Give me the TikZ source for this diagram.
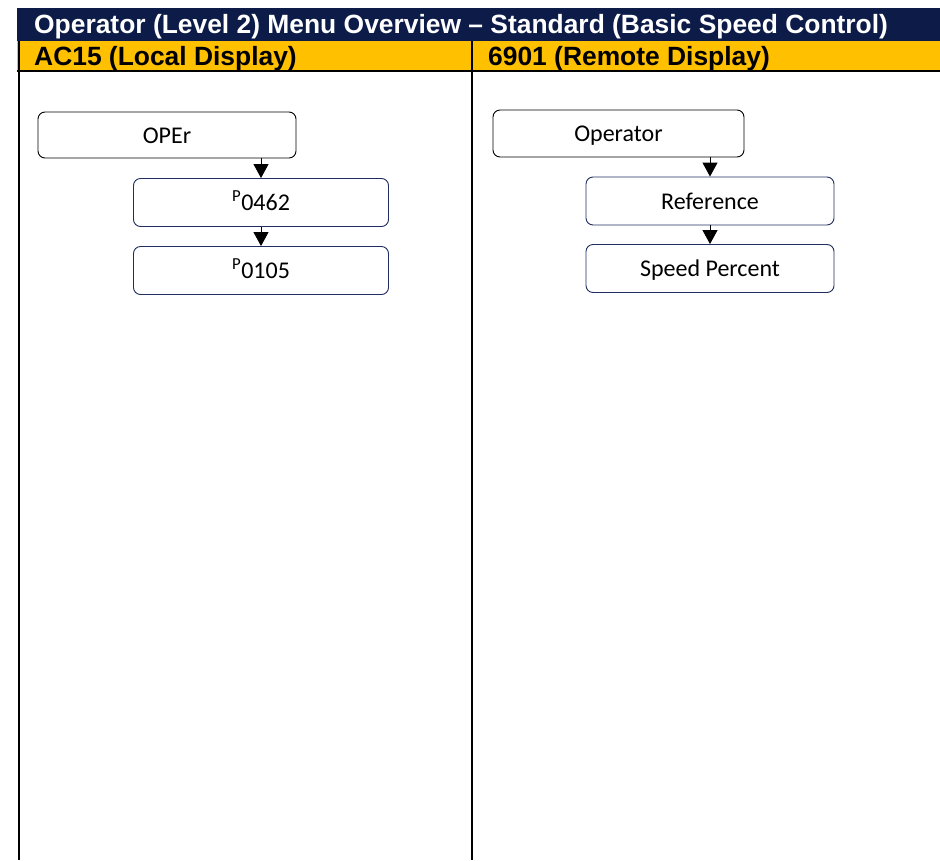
\documentclass[tikz,border=0pt]{standalone}
\usepackage{fontspec}
\setmainfont{Carlito}
\newfontfamily\headfont{Liberation Sans}
\usetikzlibrary{arrows.meta}
\definecolor{navy}{RGB}{12,27,72}
\definecolor{gold}{RGB}{255,192,0}
\definecolor{boxline}{RGB}{31,45,96}
\begin{document}
\begin{tikzpicture}[x=1pt, y=-1pt,
    menubox/.style={shape=rectangle, draw=boxline, fill=white, line width=0.9pt, rounded corners=7pt, minimum width=255pt, minimum height=48pt, text height=16pt, text depth=0pt, font=\fontsize{24}{28}\selectfont},
    topbox/.style={menubox, draw=black},
    headtext/.style={anchor=west, inner sep=0pt, font=\headfont\bfseries\fontsize{26.4}{28}\selectfont},
    flow/.style={-{Triangle[width=15pt, length=14pt]}, line width=1pt}]
        \useasboundingbox (0,0) rectangle (940,860);
        % header rows
        \fill[navy] (17,8) rectangle (940,41);
        \fill[gold] (17,41) rectangle (940,70);
        \node[name=title, headtext, text=white] at (34,26.5) {Operator (Level 2) Menu Overview \textendash{} Standard (Basic Speed Control)};
        \node[name=local, headtext] at (34,58.5) {AC15 (Local Display)};
        \node[name=remote, headtext] at (488,58.5) {6901 (Remote Display)};
        \draw[line width=2pt] (17,71) -- (940,71);
        \draw[line width=2pt] (19,41) -- (19,860);
        \draw[line width=2pt] (472,41) -- (472,860);
        % AC15 column
        \node[name=oper, topbox, minimum width=258pt, minimum height=46pt] at (167,135) {OPEr};
        \node[name=p0462, menubox] at (261,202.5) {\textsuperscript{P}0462};
        \node[name=p0105, menubox] at (261,270.5) {\textsuperscript{P}0105};
        \draw[flow] (p0462.north |- oper.south) -- (p0462.north);
        \draw[flow] (p0462.south) -- (p0105.north);
        % 6901 column
        \node[name=operator, topbox, minimum width=251pt, minimum height=47pt] at (618.5,133.5) {Operator};
        \node[name=reference, menubox, minimum width=248pt] at (710,201) {Reference};
        \node[name=speed, menubox, minimum width=248pt] at (710,268.5) {Speed Percent};
        \draw[flow] (reference.north |- operator.south) -- (reference.north);
        \draw[flow] (reference.south) -- (speed.north);
\end{tikzpicture}
\end{document}
